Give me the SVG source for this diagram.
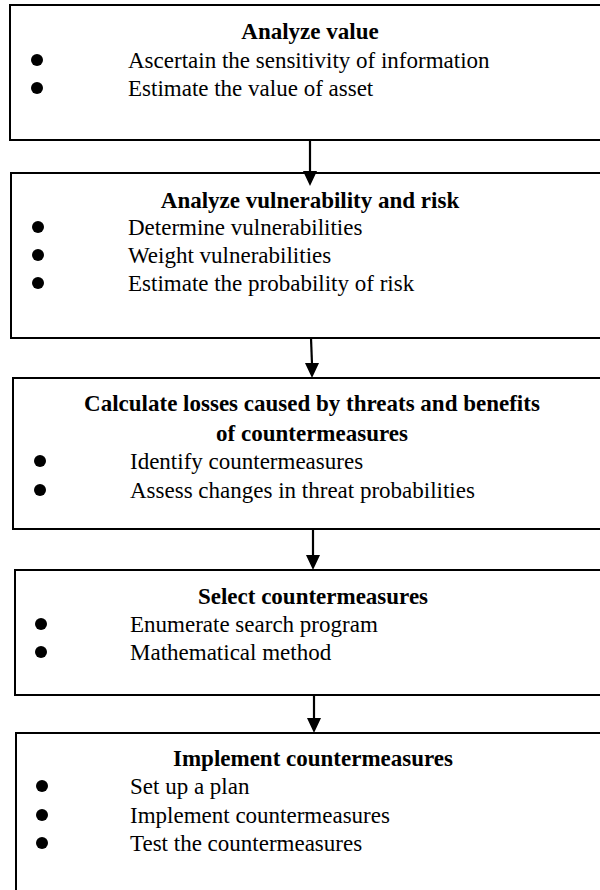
<svg xmlns="http://www.w3.org/2000/svg" width="600" height="890" viewBox="0 0 600 890">
  <style>
    .box { fill: #ffffff; stroke: #000000; stroke-width: 2; }
    .title { font-family: "Liberation Serif", "Times New Roman", serif; font-size: 23px; font-weight: bold; fill: #000000; text-anchor: middle; }
    .item { font-family: "Liberation Serif", "Times New Roman", serif; font-size: 23px; fill: #000000; }
    .dot { fill: #000000; }
    .link { stroke: #000000; stroke-width: 2.2; fill: none; }
    .head { fill: #000000; }
  </style>
  <rect x="0" y="0" width="600" height="890" fill="#ffffff"/>

  <g id="analyze-value">
    <rect class="box" x="10" y="5" width="600" height="135"/>
    <text class="title" x="310" y="39">Analyze value</text>
    <circle class="dot" cx="37" cy="60" r="6"/>
    <text class="item" x="128" y="68">Ascertain the sensitivity of information</text>
    <circle class="dot" cx="37" cy="88" r="6"/>
    <text class="item" x="128" y="96">Estimate  the value of asset</text>
  </g>

  <g id="analyze-vulnerability">
    <rect class="box" x="11" y="173" width="600" height="165"/>
    <text class="title" x="310" y="208">Analyze vulnerability and risk</text>
    <circle class="dot" cx="38" cy="227" r="6"/>
    <text class="item" x="128" y="235">Determine vulnerabilities</text>
    <circle class="dot" cx="38" cy="255" r="6"/>
    <text class="item" x="128" y="263">Weight vulnerabilities</text>
    <circle class="dot" cx="38" cy="283" r="6"/>
    <text class="item" x="128" y="291">Estimate the probability of risk</text>
  </g>

  <g id="calculate-losses">
    <rect class="box" x="13" y="378" width="600" height="151"/>
    <text class="title" x="312" y="411">Calculate losses caused by threats and benefits</text>
    <text class="title" x="312" y="441">of countermeasures</text>
    <circle class="dot" cx="40" cy="461" r="6"/>
    <text class="item" x="130" y="469">Identify countermeasures</text>
    <circle class="dot" cx="40" cy="490" r="6"/>
    <text class="item" x="130" y="498">Assess changes in threat probabilities</text>
  </g>

  <g id="select-countermeasures">
    <rect class="box" x="15" y="570" width="600" height="125"/>
    <text class="title" x="313" y="604">Select countermeasures</text>
    <circle class="dot" cx="41" cy="624" r="6"/>
    <text class="item" x="130" y="632">Enumerate search program</text>
    <circle class="dot" cx="41" cy="652" r="6"/>
    <text class="item" x="130" y="660">Mathematical method</text>
  </g>

  <g id="implement-countermeasures">
    <rect class="box" x="16" y="733" width="600" height="170"/>
    <text class="title" x="313" y="766">Implement countermeasures</text>
    <circle class="dot" cx="42" cy="786" r="6"/>
    <text class="item" x="130" y="794">Set up a plan</text>
    <circle class="dot" cx="42" cy="815" r="6"/>
    <text class="item" x="130" y="823">Implement countermeasures</text>
    <circle class="dot" cx="42" cy="843" r="6"/>
    <text class="item" x="130" y="851">Test the countermeasures</text>
  </g>

  <!-- connectors drawn last so the first arrowhead shows over the box it enters -->
  <g id="connectors">
    <line class="link" x1="310" y1="140" x2="310" y2="172"/>
    <polygon class="head" points="303,171 317,171 310,186"/>
    <line class="link" x1="311" y1="338" x2="312" y2="364"/>
    <polygon class="head" points="305,363 319,363 312,378"/>
    <line class="link" x1="313" y1="529" x2="313" y2="556"/>
    <polygon class="head" points="306,555 320,555 313,570"/>
    <line class="link" x1="314" y1="695" x2="314" y2="719"/>
    <polygon class="head" points="307,718 321,718 314,733"/>
  </g>
</svg>
